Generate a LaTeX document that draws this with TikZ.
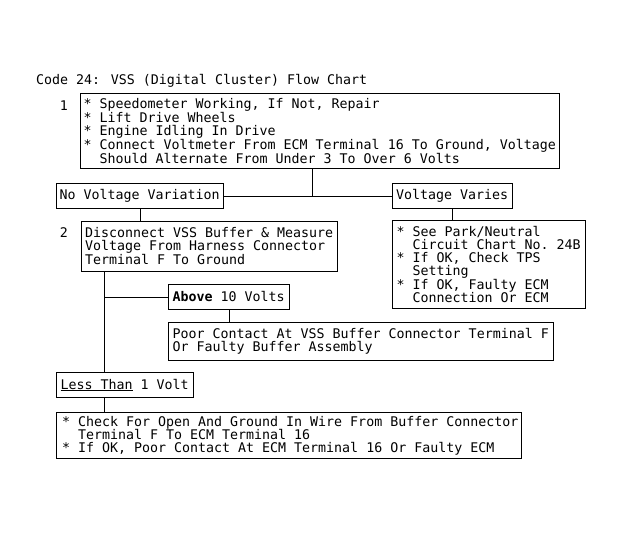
\documentclass[tikz,border=0pt]{standalone}
\usepackage{fontspec}
\usepackage{tikz}
\usetikzlibrary{positioning}
\newfontfamily\mono{DejaVu Sans Mono}
\newcommand{\chartfont}{\mono\fontsize{13.3}{13}\selectfont}
\newcommand{\fixspaces}{\spaceskip=\fontdimen2\font\relax\xspaceskip=\fontdimen2\font\relax
  \hyphenpenalty=10000\relax}
\newcommand{\cont}{\hphantom{* }}

\begin{document}
\begin{tikzpicture}[
    x=1pt, y=-1pt,
    every node/.style={font=\chartfont},
    box/.style={rectangle, draw=black, line width=1pt, anchor=north west,
                align=left, inner ysep=0pt, inner xsep=4pt,
                execute at begin node=\fixspaces},
    line/.style={line width=1pt}
  ]
  \useasboundingbox (0,0) rectangle (623,538);

  \node[anchor=west, inner sep=0pt] (title) at (36,81) {Code 24: VSS (Digital Cluster) Flow Chart};

  \node[box, inner xsep=3pt, text width=473pt, minimum height=75pt] (b1) at (80,93)
    {* Speedometer Working, If Not, Repair\\{}%
     * Lift Drive Wheels\\{}%
     * Engine Idling In Drive\\{}%
     * Connect Voltmeter From ECM Terminal 16 To Ground, Voltage\\
     \cont Should Alternate From Under 3 To Over 6 Volts};
  \node[inner sep=0pt] (n1) at (64,106) {1};

  \node[box, inner xsep=3pt, text width=161pt, minimum height=25pt] (nvv) at (56,183) {No Voltage Variation};
  \node[box, inner xsep=3.5pt, text width=113pt, minimum height=25pt] (vv) at (392,183) {Voltage Varies};

  \node[box, inner xsep=3.5pt, text width=249pt, minimum height=50pt] (b2) at (81,221)
    {Disconnect VSS Buffer \& Measure\\
     Voltage From Harness Connector\\
     Terminal F To Ground};
  \node[inner sep=0pt] (n2) at (64,233) {2};

  \node[box, inner xsep=4pt, text width=185pt, minimum height=88pt] (b3) at (392,220)
    {* See Park/Neutral\\
     \cont Circuit Chart No. 24B\\{}%
     * If OK, Check TPS\\
     \cont Setting\\{}%
     * If OK, Faulty ECM\\
     \cont Connection Or ECM};

  \node[box, text width=113pt, minimum height=25pt] (a10) at (168,284) {\textbf{Above} 10 Volts};
  \node[box, text width=377pt, minimum height=38pt] (pc) at (168,322)
    {Poor Contact At VSS Buffer Connector Terminal F\\
     Or Faulty Buffer Assembly};

  \node[box, text width=129pt, minimum height=25pt] (lt) at (56,372) {\underline{Less Than} 1 Volt};
  \node[box, inner xsep=2.5pt, text width=460pt, minimum height=46pt] (b5) at (56,412)
    {\mbox{\hspace*{3pt}* Check For Open And Ground In Wire From Buffer Connector}\\
     \mbox{\hspace*{3pt}\cont Terminal F To ECM Terminal 16}\\
     \mbox{\hspace*{3pt}* If OK, Poor Contact At ECM Terminal 16 Or Faulty ECM}};

  \coordinate (j1) at (312,195.5);
  \coordinate (s2) at (104,271);

  \draw[line] (b1.south -| j1) -- (j1);
  \draw[line] (nvv) -- (vv);
  \draw[line] (nvv.south) -- (nvv.south |- b2.north);
  \draw[line] (vv.south) -- (vv.south |- b3.north);
  \draw[line] (s2) -- (s2 |- lt.north);
  \draw[line] (s2 |- a10.west) -- (a10.west);
  \draw[line] (a10.south) -- (a10.south |- pc.north);
  \draw[line] (s2 |- lt.south) -- (s2 |- b5.north);
\end{tikzpicture}
\end{document}
